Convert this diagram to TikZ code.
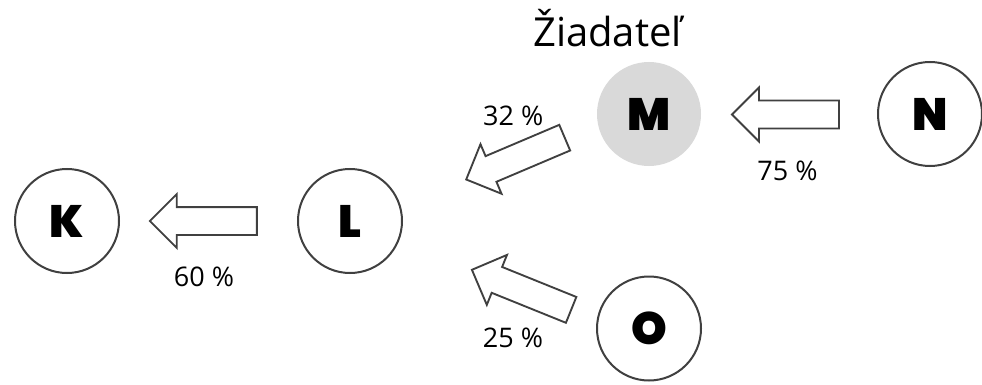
\documentclass[tikz,border=0pt]{standalone}
\usepackage{fontspec}
\setmainfont{Open Sans}
\IfFontExistsTF{Poppins Black}{\newfontfamily\heavyfont{Poppins Black}}{%
  \IfFontExistsTF{Lato Black}{\newfontfamily\heavyfont{Lato Black}}{\newfontfamily\heavyfont{DejaVu Sans Bold}}}
\usetikzlibrary{shapes.arrows}
\definecolor{edgegray}{HTML}{404040}
\definecolor{fillgray}{HTML}{D9D9D9}
\tikzset{
  party/.style={circle, draw=edgegray, line width=1.5pt, minimum size=78pt, inner sep=0pt,
    font=\heavyfont\fontsize{34}{34}\selectfont},
  applicant/.style={party, draw=none, fill=fillgray},
  flow/.style={single arrow, draw=edgegray, fill=white, line width=1.4pt,
    inner xsep=0pt, inner ysep=9.75pt,
    minimum height=80.25pt, minimum width=39pt, single arrow head extend=9.75pt,
    single arrow tip angle=90, anchor=tip},
  pct/.style={anchor=base, inner sep=0pt, font=\fontsize{20.25}{24}\selectfont},
  title/.style={anchor=base, inner sep=0pt, font=\fontsize{30}{36}\selectfont}
}
\begin{document}
\begin{tikzpicture}[x=0.75pt,y=-0.75pt]
\useasboundingbox[fill=white] (0,0) rectangle (982,385);
% parties
\node[party] (K) at (67,221) {K};
\node[party] (L) at (350,221) {L};
\node[applicant] (M) at (649,114) {M};
\node[party] (N) at (930,114) {N};
\node[party] (O) at (649,328.5) {O};
% title
\node[title] (T) at (607.5,46.7) {Žiadateľ};
% flows (placed by their tips)
\node[flow, rotate=180] (LK) at (148.5,221) {};
\node[flow, rotate=180] (NM) at (730.7,114.5) {};
\node[flow, rotate=203] (ML) at (465,180) {};
\node[flow, rotate=158] (OL) at (470.7,269.3) {};
% percentages
\node[pct] (p60) at (204,286) {60 \%};
\node[pct] (p75) at (787.5,180) {75 \%};
\node[pct] (p32) at (513.3,125) {32 \%};
\node[pct] (p25) at (513,347.3) {25 \%};
\end{tikzpicture}
\end{document}
